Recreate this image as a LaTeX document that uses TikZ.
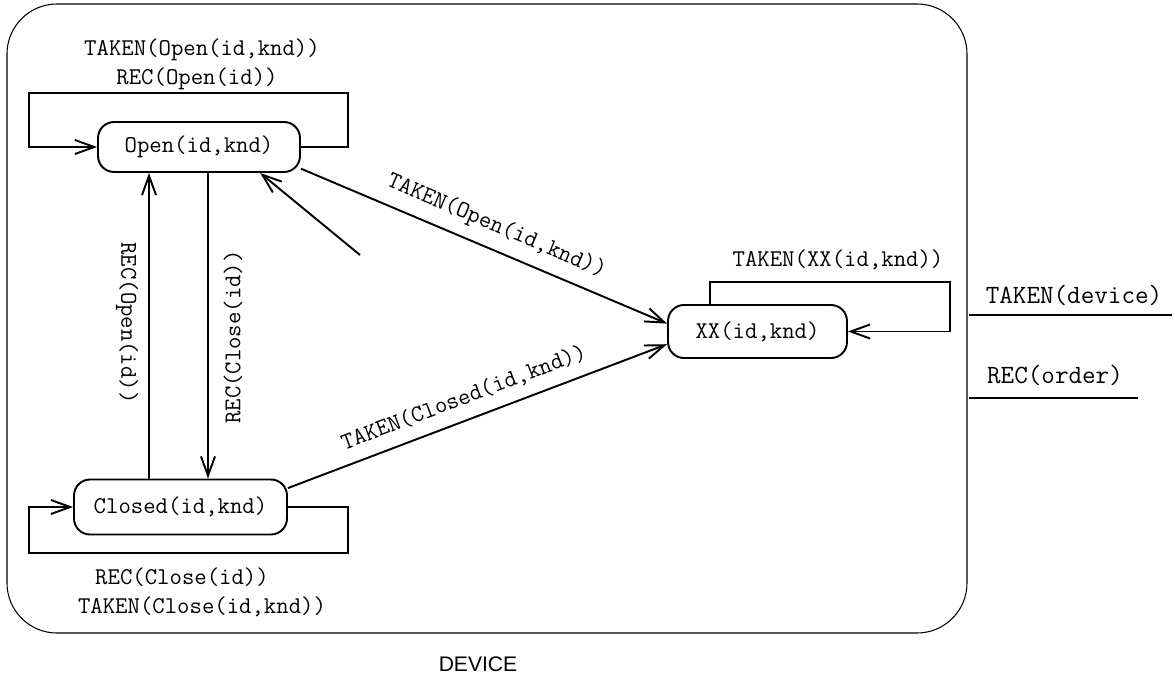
\documentclass[tikz,border=0pt]{standalone}
\usepackage{fontspec}
\setsansfont{Liberation Sans}
\usetikzlibrary{arrows.meta}

\tikzset{
  state/.style={draw,rectangle,rounded corners=0.32cm,line width=1.1pt,inner sep=0pt,font=\fontsize{13.7}{16}\ttfamily},
  trans/.style={->,line width=1.1pt},
  lbl/.style={font=\fontsize{13.7}{16}\ttfamily},
  side/.style={font=\fontsize{15}{17}\ttfamily}
}

\begin{document}
\begin{tikzpicture}[x=0.02cm,y=-0.02cm,>={Straight Barb[length=11pt,width=8pt]}]
  \useasboundingbox (0,0) rectangle (1175,683);
  \draw[line width=0.6pt,rounded corners=1cm] (7,4) rectangle (967,633);

  \node[state,minimum width=4.04cm,minimum height=1cm] (Open) at (199,147) {Open(id,knd)};
  \node[state,minimum width=4.26cm,minimum height=1.1cm] (Closed) at (180.5,507) {Closed(id,knd)};
  \node[state,minimum width=3.58cm,minimum height=1.06cm] (XX) at (757.5,331.5) {XX(id,knd)};

  \draw[trans] (Open.east) -| (348,93) -| (29,147) -- (Open.west);
  \node[lbl] (OpenTaken) at (202,50) {TAKEN(Open(id,knd))};
  \node[lbl] (OpenRec) at (197,79) {REC(Open(id))};

  \draw[trans] (Closed.east) -| (348,553) -| (29,507) -- (Closed.west);
  \node[lbl] (ClosedRec) at (182,577) {REC(Close(id))};
  \node[lbl] (ClosedTaken) at (202,607) {TAKEN(Close(id,knd))};

  \draw[trans] ([xshift=-0.95cm]XX.north) |- (950,282) |- (XX.east);
  \node[lbl] (XXTaken) at (838,260) {TAKEN(XX(id,knd))};

  \draw[trans] ([xshift=-0.63cm]Closed.north) -- ([xshift=-1cm]Open.south);
  \draw[trans] ([xshift=0.18cm]Open.south) -- ([xshift=0.55cm]Closed.north);
  \node[lbl,rotate=-90] (UpRec) at (127,323) {REC(Open(id))};
  \node[lbl,rotate=90] (DownRec) at (233,337) {REC(Close(id))};

  \draw[trans] (Open.-12) -- node[lbl,sloped,above=3pt,pos=0.51] (OpenXXLabel) {TAKEN(Open(id,knd))} (XX.175);
  \draw[trans] (Closed.10) -- node[lbl,sloped,above=3pt,pos=0.485] (ClosedXXLabel) {TAKEN(Closed(id,knd))} (XX.-172);

  \coordinate (Init) at (360,255);
  \draw[trans] (Init) -- (Open.-23);

  \node[side] (TakenDevice) at (1074,295) {TAKEN(device)};
  \draw[line width=0.6pt] (969,315) -- (1172,315);
  \node[side] (RecOrder) at (1055,375) {REC(order)};
  \draw[line width=0.6pt] (969,398) -- (1138,398);

  \node[font=\fontsize{12}{14}\sffamily] (Device) at (478,664) {DEVICE};
\end{tikzpicture}
\end{document}
